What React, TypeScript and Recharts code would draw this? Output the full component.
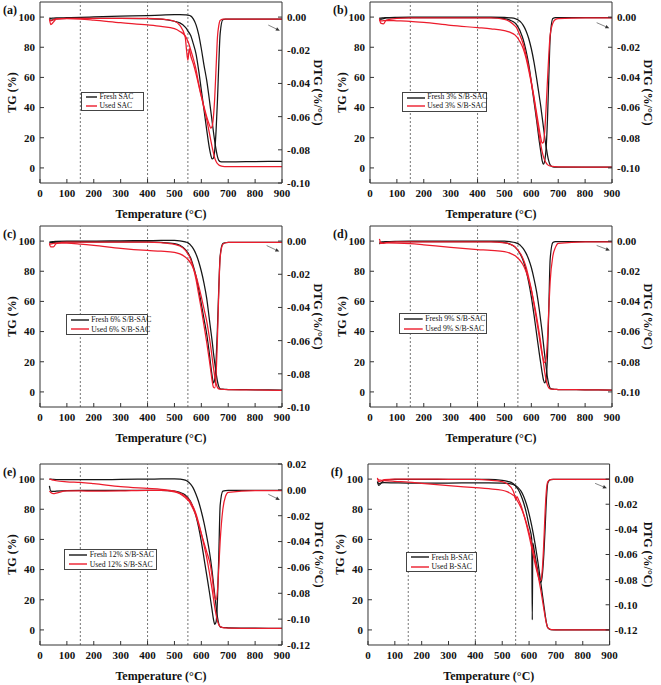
import React from 'react';
import { ComposedChart, Line, XAxis, YAxis, ReferenceLine } from 'recharts';

// ---------- shared axis values ----------
const TEMPS = [35, 40, 50, 60, 100, 150, 200, 300, 400, 450, 500, 520, 540, 545, 550, 555, 560, 570, 580, 590, 600, 610, 620, 630, 635, 640, 645, 650, 655, 660, 665, 670, 680, 690, 700, 800, 900];
const TEMPS_F_FRESH_DTG = [35, 40, 50, 60, 100, 150, 200, 300, 400, 450, 500, 520, 540, 545, 550, 555, 560, 570, 580, 590, 600, 610, 612, 614, 620, 630, 635, 640, 645, 650, 655, 660, 665, 670, 680, 690, 700, 800, 900];
const X_TICKS = [0, 100, 200, 300, 400, 500, 600, 700, 800, 900];
const TG_TICKS = [0, 20, 40, 60, 80, 100];
const DTG_TICKS_10 = [-0.1, -0.08, -0.06, -0.04, -0.02, 0];
const DTG_TICKS_E = [-0.12, -0.1, -0.08, -0.06, -0.04, -0.02, 0, 0.02];
const DTG_TICKS_F = [-0.12, -0.1, -0.08, -0.06, -0.04, -0.02, 0];
const DASHED_TEMPS = [150, 400, 550];

// ---------- (a) SAC ----------
const FRESH_TG_A = [99.5, 99.2, 99.3, 99.4, 99.6, 99.8, 100.1, 100.6, 101, 101.3, 101.6, 101.6, 101.5, 101.4, 101.3, 101.1, 100.8, 98.8, 95, 88.5, 79, 68, 58, 45, 38, 31, 24, 17.5, 12, 7.5, 5, 4.2, 4, 4, 4, 4.2, 4.4];
const USED_TG_A = [98.8, 97.5, 98.3, 98.8, 99, 98.7, 98, 96.3, 94.8, 93.8, 92.3, 90.5, 87.5, 86, 84, 81.5, 78.5, 72.5, 65.5, 56, 48, 39.5, 32, 23, 18.5, 14, 10, 6.5, 4.3, 2.8, 2, 1.5, 1, 0.9, 0.8, 0.8, 0.8];
const FRESH_DTG_A = [-0.001, -0.002, -0.0015, -0.001, -0.0008, -0.0008, -0.0008, -0.0008, -0.001, -0.0012, -0.0025, -0.0035, -0.006, -0.007, -0.0085, -0.0095, -0.011, -0.016, -0.022, -0.032, -0.044, -0.056, -0.068, -0.079, -0.083, -0.0855, -0.085, -0.08, -0.068, -0.05, -0.028, -0.01, -0.0015, -0.0012, -0.0012, -0.0012, -0.0012];
const USED_DTG_A = [-0.001, -0.0045, -0.003, -0.0012, -0.0008, -0.0008, -0.0008, -0.0008, -0.0008, -0.0012, -0.0025, -0.005, -0.012, -0.02, -0.026, -0.019, -0.023, -0.028, -0.034, -0.041, -0.048, -0.054, -0.06, -0.065, -0.067, -0.066, -0.06, -0.048, -0.03, -0.012, -0.005, -0.002, -0.0012, -0.0012, -0.0012, -0.0012, -0.0012];

// ---------- (b) 3% S/B-SAC ----------
const FRESH_TG_B = [99.5, 99.3, 99.5, 99.6, 99.8, 99.9, 100, 100, 100, 100, 99.8, 99.5, 99, 98.6, 98.2, 97.6, 96.8, 94.5, 91, 86, 79, 70, 59, 47, 41, 34, 27, 20, 14, 8.5, 4.5, 2, 0.7, 0.5, 0.5, 0.5, 0.5];
const USED_TG_B = [98, 97.5, 97.6, 97.7, 97.5, 97.2, 96.5, 94.5, 93, 92.2, 91, 90, 88, 87, 86, 84.5, 83, 79, 73, 65, 56, 46, 33, 21, 15.5, 11, 7.5, 5, 3.3, 2.2, 1.6, 1.3, 1, 0.8, 0.7, 0.6, 0.6];
const FRESH_DTG_B = [-0.001, -0.0015, -0.001, -0.0005, -0.0003, -0.0003, -0.0003, -0.0003, -0.0003, -0.0003, -0.001, -0.002, -0.004, -0.005, -0.0065, -0.008, -0.01, -0.015, -0.022, -0.031, -0.043, -0.056, -0.069, -0.083, -0.089, -0.095, -0.0975, -0.095, -0.087, -0.068, -0.04, -0.014, -0.001, -0.0003, -0.0003, -0.0003, -0.0003];
const USED_DTG_B = [-0.001, -0.004, -0.0045, -0.002, -0.0008, -0.0005, -0.0005, -0.0005, -0.0005, -0.0005, -0.0015, -0.003, -0.006, -0.007, -0.009, -0.011, -0.013, -0.018, -0.025, -0.033, -0.043, -0.053, -0.064, -0.075, -0.08, -0.0835, -0.083, -0.075, -0.06, -0.042, -0.025, -0.012, -0.004, -0.0015, -0.001, -0.0005, -0.0005];

// ---------- (c) 6% S/B-SAC ----------
const FRESH_TG_C = [99.5, 99.5, 99.7, 99.8, 100, 100, 100, 100.2, 100.3, 100.4, 100.4, 100.2, 99.5, 99.2, 98.8, 98.2, 97.3, 95, 91.5, 86.5, 80, 72, 62, 48, 41, 34, 26, 19, 12.5, 7, 3.5, 2, 1.8, 1.7, 1.6, 1.4, 1.2];
const USED_TG_C = [98.5, 98, 98.5, 98.7, 98.6, 98, 97.2, 95.2, 93.8, 93.3, 92.5, 91.5, 89.5, 88.7, 87.8, 86.8, 85.5, 82, 77, 70.5, 63, 55, 47, 36, 30, 23, 16, 10, 5.5, 3, 2, 1.8, 1.7, 1.6, 1.5, 1.3, 1.1];
const FRESH_DTG_C = [-0.001, -0.001, -0.0008, -0.0006, -0.0005, -0.0005, -0.0005, -0.0005, -0.0005, -0.0008, -0.0015, -0.0025, -0.005, -0.006, -0.007, -0.0085, -0.01, -0.015, -0.021, -0.029, -0.038, -0.047, -0.056, -0.068, -0.075, -0.081, -0.0855, -0.083, -0.072, -0.052, -0.028, -0.009, -0.0015, -0.001, -0.0008, -0.0008, -0.0008];
const USED_DTG_C = [-0.0015, -0.0035, -0.0035, -0.0015, -0.0007, -0.0007, -0.0007, -0.0007, -0.0007, -0.001, -0.002, -0.003, -0.0055, -0.0065, -0.0078, -0.009, -0.011, -0.016, -0.023, -0.032, -0.041, -0.051, -0.061, -0.072, -0.078, -0.084, -0.088, -0.0885, -0.08, -0.058, -0.03, -0.01, -0.002, -0.001, -0.0008, -0.0008, -0.0008];

// ---------- (d) 9% S/B-SAC ----------
const FRESH_TG_D = [99.5, 99.3, 99.5, 99.6, 99.8, 99.9, 100, 100, 100, 100, 99.9, 99.6, 99, 98.7, 98.3, 97.7, 97, 95, 92, 88, 82.5, 75, 66, 54, 47, 40, 32, 24, 16.5, 9.5, 5, 2.5, 1.8, 1.7, 1.6, 1.4, 1.2];
const USED_TG_D = [99, 98.5, 98.7, 98.8, 98.7, 98.3, 97.5, 95.8, 94.4, 93.8, 93, 92, 90.2, 89.5, 88.7, 87.8, 86.7, 84, 80, 74.5, 67.5, 59, 49.5, 38.5, 32.5, 26, 19.5, 13, 8, 4.5, 2.7, 2, 1.8, 1.7, 1.6, 1.4, 1.2];
const FRESH_DTG_D = [-0.002, -0.001, -0.0008, -0.0005, -0.0003, -0.0003, -0.0003, -0.0003, -0.0003, -0.0003, -0.001, -0.002, -0.004, -0.005, -0.006, -0.0075, -0.009, -0.013, -0.019, -0.027, -0.037, -0.049, -0.062, -0.075, -0.081, -0.087, -0.092, -0.094, -0.091, -0.076, -0.045, -0.012, -0.001, -0.0003, -0.0003, -0.0003, -0.0003];
const USED_DTG_D = [0.0015, -0.001, -0.0015, -0.001, -0.0005, -0.0005, -0.0005, -0.0005, -0.0005, -0.0005, -0.0012, -0.002, -0.004, -0.005, -0.006, -0.0072, -0.0085, -0.012, -0.017, -0.024, -0.032, -0.042, -0.053, -0.064, -0.07, -0.075, -0.079, -0.0805, -0.078, -0.065, -0.045, -0.027, -0.01, -0.004, -0.0015, -0.0005, -0.0005];

// ---------- (e) 12% S/B-SAC ----------
const FRESH_TG_E = [100, 100, 99.8, 99.7, 99.6, 99.6, 99.6, 99.8, 100, 100.1, 100.2, 100, 99.3, 98.9, 98.3, 97.6, 96.6, 94, 90, 85, 78.5, 71, 62, 52, 46, 39, 31, 23, 15.5, 8.5, 4, 2, 1.6, 1.5, 1.4, 1.2, 1];
const USED_TG_E = [100, 99.8, 99.3, 98.9, 98.2, 97.8, 97, 95, 93.8, 93.2, 92, 90.7, 88.6, 87.9, 87, 86, 84.8, 81.5, 77, 71, 64, 56, 48, 38, 32.5, 27, 21, 15, 10, 6, 3.5, 2.2, 1.5, 1.3, 1.2, 1, 1];
const FRESH_DTG_E = [0.003, -0.001, -0.0012, -0.001, -0.0005, -0.0004, -0.0004, -0.0004, -0.0004, -0.0004, -0.001, -0.002, -0.004, -0.005, -0.006, -0.0075, -0.009, -0.014, -0.02, -0.029, -0.04, -0.053, -0.066, -0.079, -0.086, -0.093, -0.1, -0.104, -0.102, -0.085, -0.05, -0.012, -0.001, -0.0005, -0.0004, -0.0004, -0.0004];
const USED_DTG_E = [-0.001, -0.002, -0.003, -0.0025, -0.0008, -0.0008, -0.001, -0.0008, -0.0004, -0.0004, -0.0015, -0.003, -0.006, -0.007, -0.008, -0.009, -0.011, -0.015, -0.02, -0.027, -0.034, -0.041, -0.048, -0.055, -0.06, -0.067, -0.076, -0.083, -0.085, -0.078, -0.06, -0.04, -0.015, -0.005, -0.002, -0.0005, -0.0005];

// ---------- (f) B-SAC ----------
const FRESH_TG_F = [98.2, 97, 97.5, 97.6, 97.5, 97.4, 97.4, 97.4, 97.5, 97.5, 97.4, 97.2, 96.5, 96.1, 95.6, 95, 94.2, 92, 88.5, 83.5, 77, 69, 59.5, 48.5, 42.5, 36, 29.5, 23, 16.5, 10, 4.5, 1.3, 0.2, 0.1, 0.1, 0.1, 0.1];
const USED_TG_F = [100, 99.5, 99.2, 99, 98.5, 98, 97.2, 95.6, 94.3, 93.6, 92.6, 91.5, 89.5, 88.8, 87.5, 86, 84.5, 81, 76.5, 71, 64.5, 57, 49, 40, 35, 30, 25, 19.5, 14, 8.5, 4, 1.5, 0.4, 0.2, 0.1, 0, 0];
const FRESH_DTG_F = [-0.002, -0.005, -0.003, -0.001, -0.0003, -0.0003, -0.0003, -0.0003, -0.0003, -0.0003, -0.001, -0.0018, -0.0035, -0.0045, -0.0055, -0.007, -0.0085, -0.013, -0.019, -0.027, -0.037, -0.048, -0.112, -0.051, -0.058, -0.07, -0.076, -0.081, -0.082, -0.075, -0.06, -0.038, -0.015, -0.003, -0.0005, -0.0003, -0.0003, -0.0003, -0.0003];
const USED_DTG_F = [0.001, -0.002, -0.0015, -0.0005, 0, 0, 0, -0.0002, -0.0003, -0.0008, -0.002, -0.004, -0.009, -0.012, -0.016, -0.014, -0.016, -0.021, -0.028, -0.036, -0.045, -0.055, -0.065, -0.074, -0.078, -0.081, -0.08, -0.07, -0.05, -0.025, -0.008, -0.002, -0.0005, -0.0003, -0.0003, -0.0003, -0.0003];

// ---------- styling ----------
const BLACK = '#161616';
const RED = '#ec1c2c';
const AXIS = '#333';
const FONT = '"Liberation Serif", "Times New Roman", serif';

type Panel = {
  label: string;
  plotLeft: number;
  plotTop: number;
  plotW: number;
  plotH: number;
  dtgDomain: [number, number];
  dtgTicks: number[];
  freshTG: number[];
  usedTG: number[];
  freshDTG: number[];
  freshDTGTemps: number[];
  usedDTG: number[];
  freshName: string;
  usedName: string;
  legend: { x: number; y: number; w: number; h: number; sw: number };
  arrow: [number, number, number, number];
  dtgLabelDx: number;
};

const PANELS: Panel[] = [
  { label: '(a)', plotLeft: 40, plotTop: 2, plotW: 242, plotH: 181, dtgDomain: [-0.1, 0.1 / 11], dtgTicks: DTG_TICKS_10,
    freshTG: FRESH_TG_A, usedTG: USED_TG_A, freshDTG: FRESH_DTG_A, freshDTGTemps: TEMPS, usedDTG: USED_DTG_A,
    freshName: 'Fresh SAC', usedName: 'Used SAC', legend: { x: 41, y: 90, w: 63, h: 19, sw: 11 },
    arrow: [849, -0.0048, 892, -0.0082], dtgLabelDx: 12 },
  { label: '(b)', plotLeft: 370, plotTop: 2, plotW: 242, plotH: 181, dtgDomain: [-0.11, 0.01], dtgTicks: DTG_TICKS_10,
    freshTG: FRESH_TG_B, usedTG: USED_TG_B, freshDTG: FRESH_DTG_B, freshDTGTemps: TEMPS, usedDTG: USED_DTG_B,
    freshName: 'Fresh 3% S/B-SAC', usedName: 'Used 3% S/B-SAC', legend: { x: 31.7, y: 90.3, w: 85.6, h: 19.4, sw: 18 },
    arrow: [843, -0.0037, 890, -0.0074], dtgLabelDx: 12 },
  { label: '(c)', plotLeft: 40, plotTop: 225.5, plotW: 242, plotH: 181, dtgDomain: [-0.1, 0.1 / 11], dtgTicks: DTG_TICKS_10,
    freshTG: FRESH_TG_C, usedTG: USED_TG_C, freshDTG: FRESH_DTG_C, freshDTGTemps: TEMPS, usedDTG: USED_DTG_C,
    freshName: 'Fresh 6% S/B-SAC', usedName: 'Used 6% S/B-SAC', legend: { x: 25.7, y: 88.8, w: 82.6, h: 20.7, sw: 18 },
    arrow: [843, -0.0027, 890, -0.0063], dtgLabelDx: 12 },
  { label: '(d)', plotLeft: 370, plotTop: 225.5, plotW: 242, plotH: 181, dtgDomain: [-0.11, 0.01], dtgTicks: DTG_TICKS_10,
    freshTG: FRESH_TG_D, usedTG: USED_TG_D, freshDTG: FRESH_DTG_D, freshDTGTemps: TEMPS, usedDTG: USED_DTG_D,
    freshName: 'Fresh 9% S/B-SAC', usedName: 'Used 9% S/B-SAC', legend: { x: 29, y: 87.8, w: 88.3, h: 21, sw: 18.7 },
    arrow: [843, -0.0029, 892, -0.0062], dtgLabelDx: 12 },
  { label: '(e)', plotLeft: 40, plotTop: 464, plotW: 242, plotH: 181, dtgDomain: [-0.12, 0.02], dtgTicks: DTG_TICKS_E,
    freshTG: FRESH_TG_E, usedTG: USED_TG_E, freshDTG: FRESH_DTG_E, freshDTGTemps: TEMPS, usedDTG: USED_DTG_E,
    freshName: 'Fresh 12% S/B-SAC', usedName: 'Used 12% S/B-SAC', legend: { x: 24.3, y: 85.3, w: 92.4, h: 20.7, sw: 18 },
    arrow: [849, -0.0034, 892, -0.0078], dtgLabelDx: 13 },
  { label: '(f)', plotLeft: 367.7, plotTop: 464, plotW: 241.6, plotH: 181, dtgDomain: [-0.132, 0.012], dtgTicks: DTG_TICKS_F,
    freshTG: FRESH_TG_F, usedTG: USED_TG_F, freshDTG: FRESH_DTG_F, freshDTGTemps: TEMPS_F_FRESH_DTG, usedDTG: USED_DTG_F,
    freshName: 'Fresh B-SAC', usedName: 'Used B-SAC', legend: { x: 38.3, y: 87.7, w: 70.7, h: 20.6, sw: 18 },
    arrow: [846, -0.0034, 890, -0.0073], dtgLabelDx: 15 },
];

const Y_LEFT_W = 40;
const Y_RIGHT_W = 48;
const TOP_PAD = 8;
const X_AXIS_H = 40;

const toRows = (temps: number[], vals: number[]) => temps.map((t, i) => ({ t, v: vals[i] }));
const fmtDTG = (v: number) => (Math.abs(v) < 1e-9 ? '0.00' : v.toFixed(2));

const tickStyle = { fontFamily: FONT, fontSize: 11, fontWeight: 700, fill: '#111' };
const titleStyle = { fontFamily: FONT, fontSize: 12, fontWeight: 700, fill: '#111' };

const ArrowShape = (p: any) => {
  const { x1, y1, x2, y2 } = p;
  if (![x1, y1, x2, y2].every((n) => typeof n === 'number' && isFinite(n))) return <g />;
  const ang = Math.atan2(y2 - y1, x2 - x1);
  const L = 4;
  const W = 1.8;
  const bx = x2 - L * Math.cos(ang);
  const by = y2 - L * Math.sin(ang);
  const px = -Math.sin(ang) * W;
  const py = Math.cos(ang) * W;
  return (
    <g>
      <line x1={x1} y1={y1} x2={bx} y2={by} stroke="#777" strokeWidth={0.9} />
      <polygon points={`${x2},${y2} ${bx + px},${by + py} ${bx - px},${by - py}`} fill="#333" />
    </g>
  );
};

function LegendBox({ p }: { p: Panel }) {
  const lg = p.legend;
  const rows = [
    { name: p.freshName, color: BLACK },
    { name: p.usedName, color: RED },
  ];
  const rowH = (lg.h - 2) / 2;
  return (
    <div
      style={{
        position: 'absolute',
        left: Y_LEFT_W + lg.x,
        top: TOP_PAD + lg.y,
        width: lg.w,
        height: lg.h,
        boxSizing: 'border-box',
        border: '1px solid #444',
        background: '#fff',
        fontFamily: FONT,
        fontSize: 7.7,
        color: '#111',
      }}
    >
      {rows.map((it, i) => (
        <div
          key={it.name}
          style={{ position: 'absolute', left: 4, top: i * rowH, height: rowH, display: 'flex', alignItems: 'center', whiteSpace: 'nowrap' }}
        >
          <svg width={lg.sw} height={4} style={{ flex: 'none', marginRight: 2.5, display: 'block' }}>
            <line x1={0} y1={2} x2={lg.sw} y2={2} stroke={it.color} strokeWidth={1.4} />
          </svg>
          <span style={{ lineHeight: `${rowH}px` }}>{it.name}</span>
        </div>
      ))}
    </div>
  );
}

function PanelChart({ p }: { p: Panel }) {
  const W = Y_LEFT_W + p.plotW + Y_RIGHT_W;
  const H = TOP_PAD + p.plotH + X_AXIS_H;
  const left = p.plotLeft - Y_LEFT_W;
  const top = p.plotTop - TOP_PAD;
  const common = { dot: false, isAnimationActive: false, strokeWidth: 1.25, type: 'monotone' as const, dataKey: 'v' };
  return (
    <div style={{ position: 'absolute', left, top, width: W, height: H }}>
      <ComposedChart width={W} height={H} margin={{ top: TOP_PAD, right: 0, bottom: 0, left: 0 }}>
        <XAxis
          type="number"
          dataKey="t"
          domain={[0, 900]}
          ticks={X_TICKS}
          interval={0}
          allowDataOverflow
          height={X_AXIS_H}
          tickSize={-4}
          tickMargin={10}
          axisLine={{ stroke: AXIS, strokeWidth: 1 }}
          tickLine={{ stroke: AXIS }}
          tick={tickStyle}
          label={{ value: 'Temperature (°C)', position: 'center', dy: 11, style: titleStyle }}
        />
        <YAxis
          yAxisId="tg"
          orientation="left"
          type="number"
          domain={[-10, 110]}
          ticks={TG_TICKS}
          interval={0}
          allowDataOverflow
          width={Y_LEFT_W}
          tickSize={-4}
          tickMargin={9}
          axisLine={{ stroke: AXIS, strokeWidth: 1 }}
          tickLine={{ stroke: AXIS }}
          tick={tickStyle}
          label={{ value: 'TG (%)', angle: -90, position: 'center', dx: -8, style: titleStyle }}
        />
        <YAxis
          yAxisId="dtg"
          orientation="right"
          type="number"
          domain={p.dtgDomain}
          ticks={p.dtgTicks}
          interval={0}
          allowDataOverflow
          width={Y_RIGHT_W}
          tickSize={-4}
          tickMargin={9}
          tickFormatter={fmtDTG}
          axisLine={{ stroke: AXIS, strokeWidth: 1 }}
          tickLine={{ stroke: AXIS }}
          tick={{ ...tickStyle, textAnchor: 'start' }}
          label={{ value: 'DTG (%/°C)', angle: 90, position: 'center', dx: p.dtgLabelDx, style: titleStyle }}
        />
        <ReferenceLine yAxisId="tg" y={110} stroke={AXIS} strokeWidth={1} />
        {DASHED_TEMPS.map((t) => (
          <ReferenceLine key={t} yAxisId="tg" x={t} stroke="#666" strokeWidth={0.9} strokeDasharray="2 2" />
        ))}
        <Line {...common} yAxisId="dtg" data={toRows(p.freshDTGTemps, p.freshDTG)} stroke={BLACK} name="fresh-dtg" />
        <Line {...common} yAxisId="tg" data={toRows(TEMPS, p.freshTG)} stroke={BLACK} name="fresh-tg" />
        <Line {...common} yAxisId="dtg" data={toRows(TEMPS, p.usedDTG)} stroke={RED} name="used-dtg" />
        <Line {...common} yAxisId="tg" data={toRows(TEMPS, p.usedTG)} stroke={RED} name="used-tg" />
        <ReferenceLine
          yAxisId="dtg"
          segment={[{ x: p.arrow[0], y: p.arrow[1] }, { x: p.arrow[2], y: p.arrow[3] }]}
          shape={ArrowShape}
        />
      </ComposedChart>
      <div
        style={{
          position: 'absolute',
          left: Y_LEFT_W - 37,
          top: TOP_PAD + 2,
          fontFamily: FONT,
          fontWeight: 700,
          fontSize: 12,
          color: '#111',
          lineHeight: '12px',
        }}
      >
        {p.label}
      </div>
      <LegendBox p={p} />
    </div>
  );
}

export default function App() {
  return (
    <div style={{ position: 'absolute', left: 0, top: 0, width: 661, height: 685, background: '#fff', overflow: 'hidden' }}>
      {PANELS.map((p) => (
        <PanelChart key={p.label} p={p} />
      ))}
    </div>
  );
}
